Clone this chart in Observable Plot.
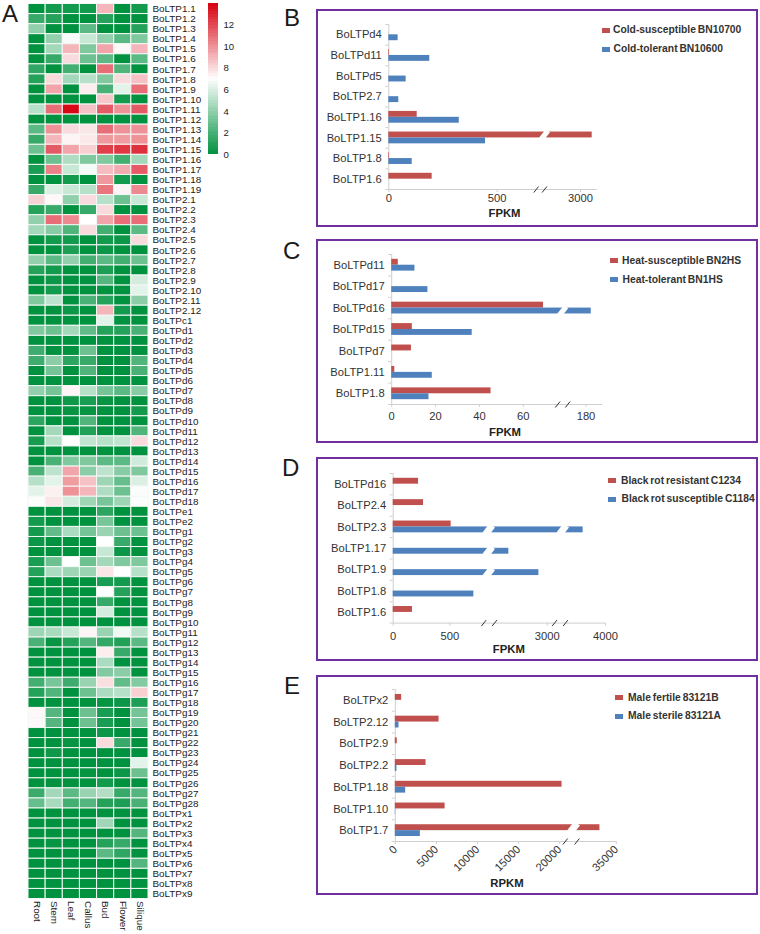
<!DOCTYPE html>
<html>
<head>
<meta charset="utf-8">
<script src="https://cdn.jsdelivr.net/npm/d3@7"></script>
<script src="https://cdn.jsdelivr.net/npm/@observablehq/plot@0.6"></script>
<style>
html,body{margin:0;padding:0;background:#fff;}
body{position:relative;width:760px;height:934px;overflow:hidden;font-family:"Liberation Sans",Arial,sans-serif;color:#222;}
.abs{position:absolute;}
.letter{position:absolute;font-size:24px;line-height:26px;color:#1a1a1a;}
.box{position:absolute;box-sizing:border-box;border:2px solid #7030a0;}
.leg{position:absolute;font-size:10.3px;font-weight:bold;color:#333;white-space:nowrap;line-height:12px;word-spacing:-1px;}
.sw{position:absolute;width:8px;height:5px;}
svg{overflow:visible;display:block;max-width:none !important;}
</style>
</head>
<body>
<script>
const tissues = ["Root","Stem","Leaf","Callus","Bud","Flower","Silique"];
const heatGenes = [
"BoLTP1.1","BoLTP1.2","BoLTP1.3","BoLTP1.4","BoLTP1.5","BoLTP1.6","BoLTP1.7","BoLTP1.8","BoLTP1.9","BoLTP1.10",
"BoLTP1.11","BoLTP1.12","BoLTP1.13","BoLTP1.14","BoLTP1.15","BoLTP1.16","BoLTP1.17","BoLTP1.18","BoLTP1.19",
"BoLTP2.1","BoLTP2.2","BoLTP2.3","BoLTP2.4","BoLTP2.5","BoLTP2.6","BoLTP2.7","BoLTP2.8","BoLTP2.9","BoLTP2.10","BoLTP2.11","BoLTP2.12",
"BoLTPc1","BoLTPd1","BoLTPd2","BoLTPd3","BoLTPd4","BoLTPd5","BoLTPd6","BoLTPd7","BoLTPd8","BoLTPd9","BoLTPd10","BoLTPd11","BoLTPd12",
"BoLTPd13","BoLTPd14","BoLTPd15","BoLTPd16","BoLTPd17","BoLTPd18","BoLTPe1","BoLTPe2",
"BoLTPg1","BoLTPg2","BoLTPg3","BoLTPg4","BoLTPg5","BoLTPg6","BoLTPg7","BoLTPg8","BoLTPg9","BoLTPg10","BoLTPg11","BoLTPg12","BoLTPg13","BoLTPg14",
"BoLTPg15","BoLTPg16","BoLTPg17","BoLTPg18","BoLTPg19","BoLTPg20","BoLTPg21","BoLTPg22","BoLTPg23","BoLTPg24","BoLTPg25","BoLTPg26","BoLTPg27","BoLTPg28",
"BoLTPx1","BoLTPx2","BoLTPx3","BoLTPx4","BoLTPx5","BoLTPx6","BoLTPx7","BoLTPx8","BoLTPx9"];
const heatRows = [
[0,.5,.5,.5,9,0,.5],[1.5,1,0,0,1,0,0],[4,0,0,2.5,0,0,1],[0,4,6.8,5.5,4,2.5,3.5],[0,4.5,9,3.5,9.5,7.2,9],
[0,1.5,8,3,2.5,0,2.5],[1.3,0,1.8,0,11,2.2,0],[1,8,4.5,5,3.5,8,8.7],[0,9.5,0,7.5,2,6.2,11],[0,0,0,0,8.5,.5,0],
[5,11,13.8,8.7,11.5,10,11.5],[0,0,0,0,0,0,0],[2.5,10,8,7.7,11,10,10],[1.5,9,7.3,7.6,9.8,9.7,10],[3,11.5,9.5,8.3,12.3,12.5,12.7],
[0,3,4.8,3.5,3.5,1.8,4.5],[.7,10.5,5.5,6.7,8.8,9.3,11.5],[0,0,.5,0,9.8,.5,0],[1.5,6,5.5,5,10.8,7.3,10.2],
[8.2,7.2,4,8,5,3,5.5],[1,1.5,0,1.5,8,0,0],[4,11,10.2,7,9.5,11,11],[4.5,3.7,2.2,8,1.8,0,2.5],[0,.5,.5,0,.5,.3,8],
[0,0,.8,0,.3,0,0],[4,2.5,4,1.8,2.5,1.8,3],[1,.5,0,0,.8,0,0],[0,.3,0,0,2.3,0,5.8],[0,.5,0,0,0,0,6.2],[3.5,5.2,0,2,1,0,3.8],[0,0,.3,0,9,.5,0],
[0,0,0,0,6.2,0,0],[3.5,3,4.5,2.7,1,1,2],[0,0,0,0,0,0,0],[1.7,0,0,3,0,0,0],[1.7,3.8,1.2,1.5,0,0,2.2],[0,3.2,0,2.2,0,0,2],[0,0,0,0,0,0,0],
[4,3.2,7.3,5,3.2,2.5,3.7],[0,0,.4,.7,.2,0,0],[0,0,.2,.2,0,0,.5],[1.2,0,0,2.2,0,0,0],[0,4.5,0,.9,0,0,2.2],[.6,5,7,5.3,5,5.3,8],
[0,0,0,0,0,0,0],[0,2,3.5,3.5,2.5,2.5,5.7],[2,5.2,9.5,3.8,5.2,3.7,3.5],[5,6.2,9.7,8.7,4.3,2.8,6],[6.2,7.4,10,9,4.8,3,6.9],[6.9,7.7,5.8,4.3,3.3,4.3,6.9],
[0,0,0,0,1.2,0,0],[.5,0,0,0,3.3,0,0],
[.5,2.7,4.7,3.2,4.2,3,3],[.3,0,0,0,7,1.5,0],[0,0,0,0,5.5,.3,0],[.7,3,7,3,4.5,3.5,3.5],[1,4.7,4.3,4.2,7.7,7,5],[0,0,0,0,.7,.5,0],[0,0,0,0,7,1,0],
[0,0,0,0,1.5,0,0],[0,0,0,0,5.8,0,0],[0,0,0,0,0,0,0],[4.3,4.6,5.5,7.3,4.2,6.6,5],[2,.2,1,2.3,1.4,.9,2.5],[0,0,0,0,7.5,1.5,0],[0,0,0,0,4.7,0,0],
[0,0,0,0,3.6,3.8,0],[1.8,3.3,1.7,4.2,7.9,2.7,3.6],[1,2.2,0,3,4.7,5,8.3],[0,0,0,0,.2,.3,.8],[7.2,2.3,0,3,.7,0,3.2],[7.2,2.3,0,3,.7,0,3.2],
[0,0,0,0,.3,0,0],[0,0,.2,0,8,1.5,0],[0,.4,0,0,0,0,0],[0,0,0,0,0,0,6.2],[0,0,0,.2,0,.3,3],[0,0,0,0,.5,0,0],[1.6,4.5,2.5,4.2,4.9,1.5,2.3],[2.8,4.6,1.8,2.3,1,.8,2],
[0,0,0,0,0,0,0],[0,0,0,0,4.4,0,0],[0,0,0,0,0,0,2.3],[0,.2,0,0,1,1.5,0],[0,0,0,0,2.5,1.3,0],[0,0,0,0,0,0,2.3],[0,0,0,0,0,0,0],[0,0,0,0,0,0,0],[0,0,0,0,0,0,0]];
const colorStops = [0,7,14];
const colorRange = ["#00923f","#ffffff","#d7000f"];
const colorTicks = [0,2,4,6,8,10,12];

const genesB = ["BoLTPd4","BoLTPd11","BoLTPd5","BoLTP2.7","BoLTP1.16","BoLTP1.15","BoLTP1.8","BoLTP1.6"];
const redB  = [0,3,0,0,131,3175,3,200];
const blueB = [43,189,80,46,325,446,108,0];
const genesC = ["BoLTPd11","BoLTPd17","BoLTPd16","BoLTPd15","BoLTPd7","BoLTP1.11","BoLTP1.8"];
const redC  = [3,0,70,9.4,9,1.4,45.3];
const blueC = [10.6,16.5,185,36.7,0,18.5,17];
const genesD = ["BoLTPd16","BoLTP2.4","BoLTP2.3","BoLTP1.17","BoLTP1.9","BoLTP1.8","BoLTP1.6"];
const redD  = [224,268,512,0,0,0,170];
const blueD = [0,0,3810,2636,2921,712,0];
const genesE = ["BoLTPx2","BoLTP2.12","BoLTP2.9","BoLTP2.2","BoLTP1.18","BoLTP1.10","BoLTP1.7"];
const redE  = [770,5325,240,3740,20290,6060,33000];
const blueE = [0,450,0,200,1260,40,3050];

const RED = "#c0504d", BLUE = "#4f81bd";

function add(el, left, top){
  const d = document.createElement("div");
  d.className = "abs";
  d.style.left = left + "px"; d.style.top = top + "px";
  d.appendChild(el);
  document.body.appendChild(d);
}
function letter(t, left, top){
  const d = document.createElement("div");
  d.className = "letter"; d.textContent = t;
  d.style.left = left + "px"; d.style.top = top + "px";
  document.body.appendChild(d);
}
function legend(items){
  for (const [txt, col, swX, txtX, y] of items){
    const s = document.createElement("div");
    s.className = "sw"; s.style.background = col;
    s.style.left = swX + "px"; s.style.top = (y - 2.5) + "px";
    document.body.appendChild(s);
    const l = document.createElement("div");
    l.className = "leg"; l.textContent = txt;
    l.style.left = txtX + "px"; l.style.top = (y - 6) + "px";
    document.body.appendChild(l);
  }
}

/* ---------- A: heat map ---------- */
const heatCells = heatGenes.flatMap((g, i) => tissues.map((t, j) => ({gene: g, tissue: t, v: heatRows[i][j]})));
const sharedColor = {type: "linear", domain: colorStops, range: colorRange, interpolate: "rgb"};
add(Plot.plot({
  width: 250, height: 934,
  marginLeft: 28, marginRight: 102, marginTop: 3.5, marginBottom: 35.5,
  style: {background: "transparent", fontFamily: "'Liberation Sans',Arial,sans-serif"},
  x: {domain: tissues, padding: 0, round: false, label: null},
  y: {domain: heatGenes, padding: 0, round: false, label: null},
  color: sharedColor,
  marks: [
    Plot.cell(heatCells, {x: "tissue", y: "gene", fill: "v", stroke: "#f4f8f5", strokeWidth: 1}),
    Plot.axisY({anchor: "right", tickSize: 0, tickPadding: 4, fontSize: 9.9, color: "#222", label: null}),
    Plot.axisX({tickSize: 0, tickPadding: 2, tickRotate: 90, fontSize: 9.9, color: "#222", label: null})
  ]
}), 0, 0);

/* colour key */
const keyStops = d3.range(0, 14, 0.25);
add(Plot.plot({
  width: 36, height: 160,
  marginLeft: 3, marginRight: 23, marginTop: 3.3, marginBottom: 6,
  style: {background: "transparent", fontFamily: "'Liberation Sans',Arial,sans-serif"},
  y: {domain: [0, 14], label: null},
  color: sharedColor,
  marks: [
    Plot.rect(keyStops, {y1: d => d, y2: d => d + 0.25, fill: d => d + 0.125, shapeRendering: "crispEdges"}),
    Plot.axisY({anchor: "right", ticks: colorTicks, tickSize: 0, tickPadding: 5, fontSize: 9.6, color: "#222", label: null, tickFormat: d => String(d)})
  ]
}), 205, 0);

/* ---------- B-E: bar panels ---------- */
function barPanel(c){
  const n = c.genes.length;
  const w = c.box[2], h = c.box[3], left = c.box[0], top = c.box[1];
  const rowPx = (c.axisBottom - c.axisTop) / n;
  const t = c.barPx / rowPx;
  const toData = d3.scaleLinear().domain(c.xPx).range(c.xDomain);
  const rows = c.genes.flatMap((g, i) => [
    {i, name: c.names[0], v: c.red[i], y1: i + 0.5 - t, y2: i + 0.5},
    {i, name: c.names[1], v: c.blue[i], y1: i + 0.5, y2: i + 0.5 + t}
  ]).filter(d => d.v > 0);
  const gapRows = rows.flatMap(b => c.gapPx.filter(p => toData(p) < b.v).map(p => ({b, p})));
  const over = 1.5 / rowPx;
  const slant = 0.78;
  const gapHalf = (b) => ((b.y2 - b.y1 + 2 * over) * rowPx * slant) / 2;
  const slashes = c.slashPx;
  const plot = Plot.plot({
    width: w, height: h,
    marginLeft: c.xPx[0] - left,
    marginRight: Math.max(0, left + w - c.xPx[c.xPx.length - 1]),
    marginTop: c.axisTop - top,
    marginBottom: top + h - c.axisBottom,
    style: {background: "transparent", fontFamily: "'Liberation Sans',Arial,sans-serif"},
    x: {type: "linear", domain: c.xDomain, range: c.xPx.map(p => p - left), label: null},
    y: {domain: [0, n], reverse: true, label: null},
    color: {domain: c.names, range: [RED, BLUE]},
    marks: [
      Plot.ruleX([0], {stroke: "#cfcfcf"}),
      Plot.ruleY([n], {x1: c.xDomain[0], x2: c.xDomain[c.xDomain.length - 1], stroke: "#cfcfcf"}),
      Plot.rect(rows, {x1: () => 0, x2: "v", y1: "y1", y2: "y2", fill: "name"}),
      Plot.link(gapRows, {
        x1: d => toData(d.p - gapHalf(d.b)),
        x2: d => toData(d.p + gapHalf(d.b)),
        y1: d => d.b.y2 + over,
        y2: d => d.b.y1 - over,
        stroke: "white", strokeWidth: c.gapWidth
      }),
      Plot.link(slashes, {
        x1: p => toData(p - 2.4),
        x2: p => toData(p + 2.4),
        y1: n + 3 / rowPx,
        y2: n - 3 / rowPx,
        stroke: "#333", strokeWidth: 1
      }),
      Plot.axisY({ticks: d3.range(n + 1), tickSize: 3, stroke: "#cfcfcf", tickFormat: () => "", label: null}),
      Plot.axisY({ticks: d3.range(n).map(i => i + 0.5), tickSize: 0, tickPadding: c.labelPad, fontSize: 11.2, color: "#333", tickFormat: d => c.genes[Math.floor(d)], label: null}),
      Plot.axisX({ticks: c.ticks, tickSize: 3, stroke: "#cfcfcf", tickFormat: () => "", label: null}),
      Plot.axisX({ticks: c.ticks, tickSize: 0, tickPadding: c.tickPad, fontSize: 11.2, color: "#333", tickRotate: c.tickRotate || 0, tickFormat: d => String(d), label: null}),
      Plot.text([c.unit], {frameAnchor: "bottom-left", dx: c.unitX - c.xPx[0], dy: c.unitY, lineAnchor: "middle", fontSize: 11.3, fontWeight: "bold", fill: "#222"})
    ]
  });
  const box = document.createElement("div");
  box.className = "box";
  box.style.cssText = `left:${left}px;top:${top}px;width:${w}px;height:${h}px;`;
  document.body.appendChild(box);
  add(plot, left, top);
}

barPanel({box: [316, 9, 442, 217.5], genes: genesB, red: redB, blue: blueB,
  names: ["Cold-susceptible BN10700", "Cold-tolerant BN10600"],
  axisTop: 24, axisBottom: 189, barPx: 5.9, labelPad: 7,
  xDomain: [0, 500, 680, 2820, 3000, 3250], xPx: [388.3, 496.7, 535.7, 544, 580, 596.7],
  ticks: [0, 500, 3000], gapPx: [544], slashPx: [535.7, 544], tickPad: 5, gapWidth: 5.2,
  unit: "FPKM", unitX: 488, unitY: 24});
barPanel({box: [315.5, 239, 442, 204], genes: genesC, red: redC, blue: blueC,
  names: ["Heat-susceptible BN2HS", "Heat-tolerant BN1HS"],
  axisTop: 254, axisBottom: 404, barPx: 5.9, labelPad: 7,
  xDomain: [0, 60, 77, 172, 180, 196], xPx: [390.7, 522.3, 556.7, 566.7, 585, 601.7],
  ticks: [0, 20, 40, 60, 180], gapPx: [561.7], slashPx: [556.7, 566.7], tickPad: 8, gapWidth: 5.2,
  unit: "FPKM", unitX: 488, unitY: 28});
barPanel({box: [316, 456.7, 442, 204], genes: genesD, red: redD, blue: blueD,
  names: ["Black rot resistant C1234", "Black rot susceptible C1184"],
  axisTop: 472.7, axisBottom: 622.3, barPx: 5.9, labelPad: 7,
  xDomain: [0, 500, 800, 2500, 3000, 3060, 3660, 4000],
  xPx: [392.7, 449.3, 483.3, 494, 546.7, 554, 565, 605],
  ticks: [0, 500, 3000, 4000], gapPx: [488.3, 562.3], slashPx: [483.3, 494, 554, 565], tickPad: 8.5, gapWidth: 6.8,
  unit: "FPKM", unitX: 492.3, unitY: 26});
barPanel({box: [315.5, 675, 442, 219.5], genes: genesE, red: redE, blue: blueE,
  names: ["Male fertile 83121B", "Male sterile 83121A"],
  axisTop: 689, axisBottom: 841, barPx: 5.9, labelPad: 7,
  xDomain: [0, 20000, 20690, 30200, 35000], xPx: [394.3, 558.7, 564.3, 576, 615.3],
  ticks: [0, 5000, 10000, 15000, 20000, 35000], gapPx: [572.7], slashPx: [564.3, 576], tickPad: 6, tickRotate: -45, gapWidth: 7,
  unit: "RPKM", unitX: 489.3, unitY: 42});

legend([
  ["Cold-susceptible BN10700", RED, 601.7, 613, 30],
  ["Cold-tolerant BN10600", BLUE, 601.7, 613.5, 49],
  ["Heat-susceptible BN2HS", RED, 610, 622, 260.7],
  ["Heat-tolerant BN1HS", BLUE, 610, 622.5, 279.7],
  ["Black rot resistant C1234", RED, 608, 621, 480.7],
  ["Black rot susceptible C1184", BLUE, 608, 621.5, 499],
  ["Male fertile 83121B", RED, 615, 628, 697.7],
  ["Male sterile 83121A", BLUE, 615, 628, 716.3]
]);

letter("A", 2, 0.5);
letter("B", 284, 5.4);
letter("C", 283, 238);
letter("D", 282, 454.7);
letter("E", 284, 672.7);
</script>
</body>
</html>
